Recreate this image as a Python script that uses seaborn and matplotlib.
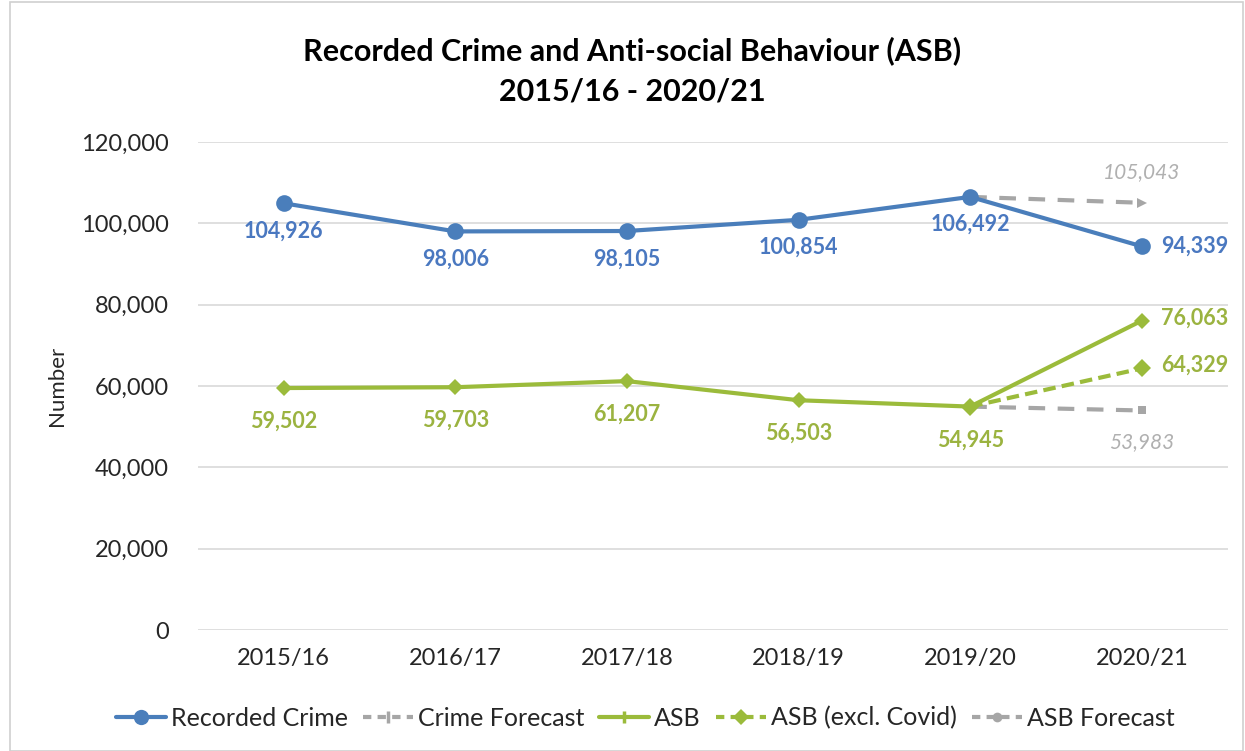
import matplotlib
matplotlib.use("Agg")
import matplotlib.pyplot as plt
from matplotlib.lines import Line2D
from matplotlib.patches import Rectangle
from matplotlib.ticker import FuncFormatter
import seaborn as sns
import pandas as pd

years = ["2015/16", "2016/17", "2017/18", "2018/19", "2019/20", "2020/21"]
recorded_crime = [104926, 98006, 98105, 100854, 106492, 94339]
asb = [59502, 59703, 61207, 56503, 54945, 76063]
asb_excl_covid_years = ["2019/20", "2020/21"]
asb_excl_covid = [54945, 64329]
crime_forecast_years = ["2019/20", "2020/21"]
crime_forecast = [106492, 105043]
asb_forecast_years = ["2019/20", "2020/21"]
asb_forecast = [54945, 53983]

BLUE = "#4a7ebb"
BLUE_TXT = "#4a78c0"
GREEN = "#9bbb3b"
GREEN_TXT = "#9bb340"
GREY = "#a6a6a6"
GREY_TXT = "#b0b0b0"

sns.set_theme(style="white")
plt.rcParams["font.family"] = ["Lato", "DejaVu Sans"]

fig = plt.figure(figsize=(12.45, 7.51), dpi=100)
ax = fig.add_axes([0.159, 0.161, 0.827, 0.650])

pos = {y: i for i, y in enumerate(years)}

df_crime = pd.DataFrame({"x": [pos[y] for y in years], "v": recorded_crime})
df_asb = pd.DataFrame({"x": [pos[y] for y in years], "v": asb})
df_asbx = pd.DataFrame({"x": [pos[y] for y in asb_excl_covid_years], "v": asb_excl_covid})
df_cf = pd.DataFrame({"x": [pos[y] for y in crime_forecast_years], "v": crime_forecast})
df_af = pd.DataFrame({"x": [pos[y] for y in asb_forecast_years], "v": asb_forecast})

# forecasts first so actual series sit on top
sns.lineplot(data=df_cf, x="x", y="v", ax=ax, color=GREY, lw=3, marker=">",
             markersize=7, markeredgewidth=0, dashes=(4, 3), zorder=2)
sns.lineplot(data=df_af, x="x", y="v", ax=ax, color=GREY, lw=3, marker="s",
             markersize=6, markeredgewidth=0, dashes=(4, 3), zorder=2)
sns.lineplot(data=df_asbx, x="x", y="v", ax=ax, color=GREEN, lw=3, marker="D",
             markersize=9, markeredgewidth=0, dashes=(3, 1.5), zorder=3)
sns.lineplot(data=df_asb, x="x", y="v", ax=ax, color=GREEN, lw=3, marker="D",
             markersize=8, markeredgewidth=0, zorder=4)
sns.lineplot(data=df_crime, x="x", y="v", ax=ax, color=BLUE, lw=3, marker="o",
             markersize=12, markeredgewidth=0, zorder=5)

ax.set_xlim(-0.5, len(years) - 0.5)
ax.set_ylim(0, 120000)
ax.set_yticks(range(0, 120001, 20000))
ax.yaxis.set_major_formatter(FuncFormatter(lambda v, p: f"{int(v):,}"))
ax.set_xticks(range(len(years)))
ax.set_xticklabels(years)
ax.tick_params(axis="both", labelsize=17, colors="#262626", length=0)
ax.tick_params(axis="y", pad=21)
ax.tick_params(axis="x", pad=13)
ax.grid(axis="y", color="#d9d9d9", lw=1.2)
ax.grid(axis="x", visible=False)
for s in ax.spines.values():
    s.set_visible(False)
ax.set_xlabel("")
ax.set_ylabel("Number", fontsize=16, color="#262626", labelpad=10)

# data labels
LBL = 15.5
for i, v in enumerate(recorded_crime):
    if i < len(years) - 1:
        ax.annotate(f"{v:,}", (i, v), xytext=(0, -20), textcoords="offset points",
                    ha="center", va="center", color=BLUE_TXT, fontsize=LBL, fontweight="bold")
    else:
        ax.annotate(f"{v:,}", (i, v), xytext=(14, 0), textcoords="offset points",
                    ha="left", va="center", color=BLUE_TXT, fontsize=LBL, fontweight="bold")
for i, v in enumerate(asb):
    if i < len(years) - 1:
        ax.annotate(f"{v:,}", (i, v), xytext=(0, -24), textcoords="offset points",
                    ha="center", va="center", color=GREEN_TXT, fontsize=LBL, fontweight="bold")
    else:
        ax.annotate(f"{v:,}", (i, v), xytext=(14, 2), textcoords="offset points",
                    ha="left", va="center", color=GREEN_TXT, fontsize=LBL, fontweight="bold")
ax.annotate(f"{asb_excl_covid[-1]:,}", (pos[asb_excl_covid_years[-1]], asb_excl_covid[-1]),
            xytext=(14, 2), textcoords="offset points", ha="left", va="center",
            color=GREEN_TXT, fontsize=LBL, fontweight="bold")
ax.annotate(f"{crime_forecast[-1]:,}", (pos[crime_forecast_years[-1]], crime_forecast[-1]),
            xytext=(0, 22), textcoords="offset points", ha="center", va="center",
            color=GREY_TXT, fontsize=15, fontstyle="italic")
ax.annotate(f"{asb_forecast[-1]:,}", (pos[asb_forecast_years[-1]], asb_forecast[-1]),
            xytext=(0, -23), textcoords="offset points", ha="center", va="center",
            color=GREY_TXT, fontsize=15, fontstyle="italic")

fig.text(0.508, 0.932, "Recorded Crime and Anti-social Behaviour (ASB)", ha="center",
         va="center", fontsize=22, fontweight="bold", color="#000000")
fig.text(0.508, 0.878, "2015/16 - 2020/21", ha="center", va="center",
         fontsize=22, fontweight="bold", color="#000000")

handles = [
    Line2D([], [], color=BLUE, lw=3, marker="o", markersize=11, markeredgewidth=0),
    Line2D([], [], color=GREY, lw=3, dashes=(2, 1.5), marker="|", markersize=9, markeredgewidth=2.5),
    Line2D([], [], color=GREEN, lw=3, marker="|", markersize=9, markeredgewidth=2.5),
    Line2D([], [], color=GREEN, lw=3, dashes=(2, 1.5), marker="D", markersize=8, markeredgewidth=0),
    Line2D([], [], color=GREY, lw=3, dashes=(2, 1.5), marker="o", markersize=7, markeredgewidth=0),
]
labels = ["Recorded Crime", "Crime Forecast", "ASB", "ASB (excl. Covid)", "ASB Forecast"]
fig.legend(handles, labels, loc="center", bbox_to_anchor=(0.518, 0.044), ncol=5,
           frameon=False, fontsize=18, handlelength=2.0, handletextpad=0.2,
           columnspacing=0.6)

fig.add_artist(Rectangle((0.008, 0.0), 0.99, 0.998, transform=fig.transFigure,
                         fill=False, edgecolor="#d0d0d0", lw=1.2))

fig.savefig("out.png", dpi=100)
